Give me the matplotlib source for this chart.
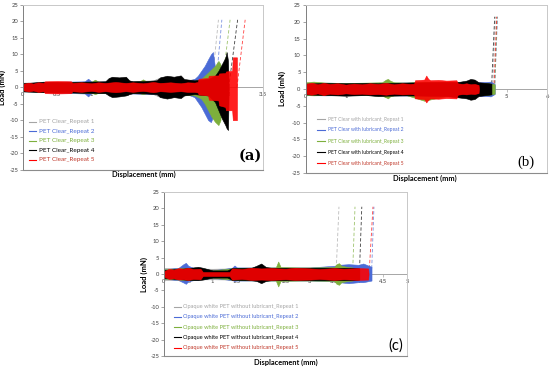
import matplotlib
matplotlib.use('Agg')
import matplotlib.pyplot as plt
from matplotlib.lines import Line2D

plt.rcParams['font.family'] = ['Lato', 'DejaVu Sans']

W, H = 550, 368

# ---------------- colours / labels ----------------
series_colors = ['#A5A5A5', '#4B6BD6', '#7DAF3C', '#000000', '#FF0000']
text_colors = ['#A5A5A5', '#4B6BD6', '#7DAF3C', '#000000', '#C0392B']

a_labels = ['PET Clear_Repeat %d' % i for i in range(1, 6)]
b_labels = ['PET Clear with lubricant_Repeat %d' % i for i in range(1, 6)]
c_labels = ['Opaque white PET without lubricant_Repeat %d' % i for i in range(1, 6)]

y_ticks = [25, 20, 15, 10, 5, 0, -5, -10, -15, -20, -25]
a_xticks = [0, 0.5, 1, 1.5, 2, 2.5, 3, 3.5]
a_xticklabels = ['0', '0.5', '1', '1.5', '2', '2.5', '3', '3.5']
b_xticks = [0, 1, 2, 3, 4, 5, 6]
b_xticklabels = ['0', '1', '2', '3', '4', '5', '6']
c_xticks = [0, 0.5, 1, 1.5, 2, 2.5, 3, 3.5, 4, 4.5, 5]
c_xticklabels = ['0', '0.5', '1', '1.5', '2', '2.5', '3', '3.5', '4', '4.5', '5']

# ---------------- panel (a) : load envelopes (mN) ----------------
a_x = [
    [0, 0.5, 1.0, 1.5, 1.9, 2.0, 2.1, 2.2, 2.3, 2.4, 2.5, 2.6, 2.7, 2.75],
    [0, 0.3, 0.6, 0.9, 0.95, 1.0, 1.3, 1.6, 1.9, 2.2, 2.4, 2.5, 2.55, 2.6, 2.65, 2.7, 2.74, 2.77, 2.8, 2.81],
    [0, 0.4, 0.8, 1.0, 1.05, 1.1, 1.5, 1.7, 1.75, 1.8, 2.2, 2.5, 2.6, 2.65, 2.7, 2.75, 2.8, 2.85, 2.88, 2.9],
    [0, 0.3, 0.6, 0.9, 1.2, 1.25, 1.3, 1.4, 1.5, 1.55, 1.6, 1.8, 1.95, 2.0, 2.1, 2.2, 2.3, 2.35, 2.5, 2.7,
     2.8, 2.85, 2.9, 2.95, 2.97, 2.99, 3.0],
    [0, 0.08, 0.15, 0.22, 0.3, 0.32, 0.5, 0.7, 0.72, 0.85, 1.0, 1.1, 1.2, 1.35, 1.5, 1.6, 1.75, 1.9, 2.0,
     2.15, 2.3, 2.4, 2.5, 2.55, 2.56, 2.7, 2.71, 2.85, 2.86, 2.95, 2.96, 3.05, 3.06, 3.12, 3.121],
]
a_hi = [
    [1.4, 1.6, 1.7, 1.8, 2.1, 3.0, 3.2, 2.5, 2.1, 2.2, 2.5, 3.5, 5.0, 6.0],
    [1.2, 1.5, 1.7, 1.8, 2.6, 1.7, 1.8, 1.8, 1.9, 2.0, 2.0, 2.5, 3.5, 5.0, 6.5, 8.5, 10.0, 10.7, 6.0, 0],
    [1.2, 1.5, 1.6, 1.7, 2.3, 1.7, 1.7, 1.8, 2.4, 1.8, 1.9, 2.0, 2.5, 3.5, 4.5, 5.5, 6.5, 8.0, 7.0, 0],
    [1.2, 1.7, 1.5, 1.7, 1.8, 2.8, 3.2, 3.0, 3.2, 2.1, 1.8, 1.9, 2.1, 3.0, 3.5, 3.2, 3.6, 2.5, 2.1, 2.5,
     3.5, 5.0, 7.0, 9.0, 10.7, 8.0, 0],
    [1.0, 1.4, 1.1, 1.5, 1.3, 1.8, 1.9, 1.8, 1.3, 1.5, 1.2, 1.5, 1.3, 1.6, 1.3, 1.5, 1.2, 1.6, 1.3,
     1.5, 1.2, 1.5, 1.4, 1.6, 2.6, 2.8, 3.5, 3.6, 4.2, 4.3, 4.8, 5.0, 9.1, 9.1, 0],
]
a_lo = [
    [-1.4, -1.6, -1.7, -1.8, -2.1, -3.0, -3.5, -3.0, -2.1, -2.2, -2.5, -3.5, -5.0, -6.0],
    [-1.2, -1.5, -1.7, -1.9, -2.8, -1.7, -1.9, -1.9, -2.0, -2.5, -2.2, -3.0, -4.5, -6.0, -8.0, -10.0,
     -10.6, -9.0, -6.0, 0],
    [-1.2, -1.5, -1.6, -1.7, -2.1, -1.7, -1.8, -1.8, -2.1, -1.8, -2.0, -2.5, -3.5, -5.0, -7.0, -9.0,
     -10.5, -11.5, -10.0, 0],
    [-1.2, -1.5, -1.5, -1.7, -1.8, -2.5, -3.0, -2.8, -2.5, -2.1, -1.8, -1.9, -2.1, -3.0, -3.4, -3.0,
     -3.3, -2.5, -2.1, -2.5, -4.5, -7.0, -9.5, -11.5, -12.5, -13.0, 0],
    [-0.9, -1.3, -1.0, -1.4, -1.2, -1.8, -1.9, -1.8, -1.2, -1.4, -1.1, -1.4, -1.2, -1.5, -1.2, -1.4, -1.1,
     -1.5, -1.2, -1.4, -1.2, -1.4, -1.4, -1.6, -2.2, -2.5, -3.8, -4.0, -5.5, -6.0, -7.0, -7.0, -10.0,
     -10.0, 0],
]
a_spike_start = [2.75, 2.81, 2.9, 3.0, 3.12]
a_spike_end = [2.85, 2.90, 3.02, 3.13, 3.24]
a_spike_load = [20.5, 20.5, 20.5, 20.5, 20.5]

# ---------------- panel (b) ----------------
b_x = [
    [0, 1, 2, 3, 4, 4.5, 4.65],
    [0, 0.5, 1, 2, 3, 4, 4.3, 4.5, 4.6, 4.7],
    [0, 0.2, 0.5, 1, 1.5, 1.9, 2.0, 2.05, 2.1, 2.2, 2.5, 2.95, 3.5, 4, 4.5, 4.7],
    [0, 0.5, 1, 1.5, 1.8, 2, 2.5, 3, 3.5, 3.8, 4.0, 4.1, 4.2, 4.3, 4.5, 4.62],
    [0, 0.15, 0.3, 0.45, 0.6, 0.8, 1.0, 1.2, 1.4, 1.6, 1.8, 2.0, 2.2, 2.4, 2.6, 2.7, 2.72, 2.85, 2.95,
     3.0, 3.05, 3.1, 3.3, 3.5, 3.75, 3.78, 3.9, 4.0, 4.1, 4.2, 4.3, 4.31],
]
b_hi = [
    [1.6, 1.6, 1.8, 1.9, 1.9, 1.9, 1.8],
    [1.8, 1.9, 1.8, 1.9, 2.0, 2.0, 2.0, 2.1, 2.2, 1.5],
    [2.0, 2.2, 1.9, 1.8, 1.9, 2.0, 2.8, 3.0, 2.5, 2.0, 1.9, 2.2, 2.0, 1.9, 1.8, 1.4],
    [1.6, 1.8, 1.7, 1.8, 1.7, 1.8, 1.9, 2.0, 2.1, 2.1, 2.5, 3.0, 2.8, 2.0, 1.8, 1.6],
    [1.5, 1.9, 1.4, 1.8, 1.5, 1.7, 1.3, 1.6, 1.4, 1.7, 1.5, 1.8, 1.4, 1.7, 1.5, 1.6, 2.6, 2.7, 2.8,
     4.0, 3.0, 2.6, 2.7, 2.5, 2.6, 1.7, 1.5, 1.7, 1.4, 1.5, 1.2, 0],
]
b_lo = [
    [-1.6, -1.6, -1.8, -1.9, -1.9, -1.9, -1.8],
    [-1.8, -1.9, -1.8, -1.9, -2.0, -2.0, -2.0, -2.1, -2.2, -1.5],
    [-1.8, -1.9, -1.8, -1.7, -1.8, -2.0, -2.5, -2.8, -2.2, -1.9, -1.8, -3.5, -2.1, -1.9, -1.8, -1.4],
    [-1.6, -1.8, -2.0, -1.8, -2.1, -2.0, -1.9, -2.0, -2.1, -2.5, -2.8, -3.2, -3.0, -2.1, -1.8, -1.6],
    [-1.4, -1.7, -1.3, -1.8, -1.4, -1.6, -1.3, -1.5, -1.4, -1.6, -1.5, -1.7, -1.4, -1.6, -1.5, -1.6,
     -2.8, -2.9, -3.0, -4.0, -3.2, -2.8, -2.9, -2.7, -2.8, -1.7, -1.5, -1.6, -1.4, -1.5, -1.2, 0],
]
b_spike_start = [4.65, 4.7, 4.7, 4.62, 4.68]
b_spike_end = [4.72, 4.77, 4.76, 4.70, 4.75]
b_spike_load = [21.5, 21.5, 21.5, 21.5, 21.5]

# ---------------- panel (c) ----------------
c_x = [
    [0, 1, 2, 3, 3.5, 3.54],
    [0, 0.3, 0.4, 0.45, 0.5, 0.6, 1.0, 1.4, 1.45, 1.5, 2.0, 3.0, 3.5, 3.6, 3.8, 4.0, 4.1, 4.2, 4.27],
    [0, 0.5, 1.0, 1.5, 2.0, 2.3, 2.35, 2.4, 2.8, 3.0, 3.5, 3.55, 3.6, 3.65, 3.8, 3.88],
    [0, 0.5, 0.7, 0.8, 1.0, 1.3, 1.4, 1.8, 1.9, 2.0, 2.1, 2.2, 2.5, 3.0, 3.5, 3.9, 4.02],
    [0, 0.1, 0.2, 0.3, 0.4, 0.5, 0.6, 0.75, 0.8, 1.35, 1.4, 1.6, 1.8, 2.0, 2.2, 2.5, 2.7, 3.0, 3.2, 3.5,
     3.7, 4.0, 4.2, 4.21],
]
c_hi = [
    [1.8, 1.6, 1.9, 1.9, 1.9, 1.7],
    [1.4, 1.9, 3.0, 3.4, 2.5, 1.9, 1.1, 1.9, 2.6, 2.0, 2.0, 2.0, 2.5, 2.8, 3.0, 2.8, 3.2, 2.6, 2.2],
    [1.4, 1.9, 1.1, 1.9, 2.0, 2.0, 3.8, 2.1, 2.0, 2.0, 2.1, 3.0, 3.3, 2.5, 2.1, 2.0],
    [1.2, 1.8, 2.2, 1.9, 1.1, 1.1, 1.8, 1.9, 2.5, 3.2, 2.1, 1.9, 1.9, 1.9, 1.9, 1.9, 1.7],
    [0.8, 1.6, 1.3, 1.8, 1.6, 1.9, 1.5, 1.6, 0.6, 0.6, 1.7, 1.5, 1.9, 1.7, 1.8, 1.6, 1.9, 1.7, 1.5, 1.8,
     1.6, 1.8, 1.7, 0],
]
c_lo = [
    [-1.8, -1.6, -1.9, -1.9, -1.9, -1.7],
    [-1.4, -1.9, -2.6, -3.0, -2.2, -1.9, -1.1, -1.9, -2.1, -2.0, -2.0, -2.0, -2.2, -2.5, -2.8, -2.5,
     -2.5, -2.2, -2.0],
    [-1.4, -1.9, -1.1, -1.9, -2.0, -2.0, -3.8, -2.1, -2.0, -2.0, -2.1, -3.0, -3.3, -2.5, -2.1, -2.0],
    [-1.2, -1.8, -1.9, -1.7, -1.1, -1.1, -1.8, -1.9, -2.1, -2.8, -2.1, -1.9, -1.9, -1.9, -1.9, -1.9, -1.7],
    [-0.8, -1.5, -1.3, -1.7, -1.6, -1.8, -1.5, -1.6, -0.6, -0.6, -1.7, -1.5, -1.8, -1.7, -1.8, -1.6,
     -1.8, -1.7, -1.5, -1.8, -1.6, -1.8, -1.7, 0],
]
c_spike_start = [3.54, 4.27, 3.88, 4.02, 4.22]
c_spike_end = [3.60, 4.32, 3.93, 4.07, 4.30]
c_spike_load = [20.5, 20.5, 20.5, 20.5, 20.5]

# ---------------- figure ----------------
fig = plt.figure(figsize=(W / 100, H / 100), dpi=100)


def px_axes(l, t, r, b):
    return fig.add_axes([l / W, 1 - b / H, (r - l) / W, (b - t) / H])


def draw_panel(ax, xs, his, los, s0, s1, sl, xlim, xticks, xticklabels):
    for i in range(5):
        c = series_colors[i]
        alpha = 0.88 if i == 4 else 1.0
        ax.fill_between(xs[i], los[i], his[i], color=c, lw=0.4, edgecolor=c, alpha=alpha, zorder=2 + i * 0.1)
    for i in range(5):
        ax.plot([s0[i], s1[i]], [0, sl[i]], color=series_colors[i], lw=0.6, ls=(0, (4, 2.5)),
                alpha=0.75, zorder=1.5)
    ax.set_xlim(*xlim)
    ax.set_ylim(-25, 25)
    ax.set_yticks(y_ticks)
    ax.set_yticklabels([str(v) for v in y_ticks])
    ax.set_xticks(xticks)
    ax.set_xticklabels(xticklabels)
    ax.set_axisbelow(True)
    ax.spines['bottom'].set_position(('data', 0))
    ax.spines['bottom'].set_color('#A6A6A6')
    ax.spines['bottom'].set_linewidth(0.7)
    ax.spines['bottom'].set_zorder(0.5)
    ax.spines['left'].set_color('#7F7F7F')
    ax.spines['left'].set_linewidth(0.7)
    for s in ('top', 'right'):
        ax.spines[s].set_color('#C8C8C8')
        ax.spines[s].set_linewidth(0.7)
    ax.axhline(-25, color='#8C8C8C', lw=0.8, clip_on=False, zorder=3)
    ax.tick_params(axis='y', labelsize=4.2, length=2, width=0.5, pad=1.5, colors='#7F7F7F',
                   labelcolor='#404040')
    ax.tick_params(axis='x', labelsize=4.2, length=2, width=0.5, pad=1.5, colors='#A6A6A6',
                   labelcolor='#404040')
    ax.set_facecolor('white')


def legend_px(labels, x_line0, x_line1, x_text, y0, dy, fs):
    for i, lab in enumerate(labels):
        y = 1 - (y0 + i * dy) / H
        fig.lines.append(Line2D([x_line0 / W, x_line1 / W], [y, y], transform=fig.transFigure,
                                color=series_colors[i], lw=0.8))
        fig.text(x_text / W, y, lab, color=text_colors[i], fontsize=fs, va='center', ha='left')


# (a)
axa = px_axes(23, 5, 263, 169.5)
draw_panel(axa, a_x, a_hi, a_lo, a_spike_start, a_spike_end, a_spike_load, (0, 3.5), a_xticks, a_xticklabels)
axa.set_ylabel('Load (mN)', fontsize=5.5, fontweight='bold')
axa.yaxis.set_label_coords(-0.072, 0.5)
fig.text(144 / W, 1 - 174 / H, 'Displacement (mm)', fontsize=5.3, fontweight='bold', ha='center', va='center')
legend_px(a_labels, 29, 36, 38.5, 121.7, 9.5, 4.6)
fig.text(250 / W, 1 - 156 / H, '(a)', fontsize=10.5, fontweight='bold', family='DejaVu Serif',
         ha='center', va='center')

# (b)
axb = px_axes(305.5, 5, 547, 173)
draw_panel(axb, b_x, b_hi, b_lo, b_spike_start, b_spike_end, b_spike_load, (0, 6), b_xticks, b_xticklabels)
axb.set_ylabel('Load (mN)', fontsize=5.5, fontweight='bold')
axb.yaxis.set_label_coords(-0.082, 0.5)
fig.text(425 / W, 1 - 178.5 / H, 'Displacement (mm)', fontsize=5.3, fontweight='bold', ha='center', va='center')
legend_px(b_labels, 317, 325, 327.5, 119, 11, 3.6)
fig.text(526 / W, 1 - 162 / H, '(b)', fontsize=10.5, family='Liberation Serif',
         ha='center', va='center')

# (c)
axc = px_axes(164, 192, 407, 356)
draw_panel(axc, c_x, c_hi, c_lo, c_spike_start, c_spike_end, c_spike_load, (0, 5), c_xticks, c_xticklabels)
axc.set_ylabel('Load (mN)', fontsize=5.5, fontweight='bold')
axc.yaxis.set_label_coords(-0.066, 0.5)
fig.text(286 / W, 1 - 362 / H, 'Displacement (mm)', fontsize=5.3, fontweight='bold', ha='center', va='center')
legend_px(c_labels, 174, 181, 182.5, 306.7, 10.2, 4.1)
fig.text(396 / W, 1 - 346 / H, '(c)', fontsize=10.5, ha='center', va='center')

fig.savefig('out.png', dpi=100)
